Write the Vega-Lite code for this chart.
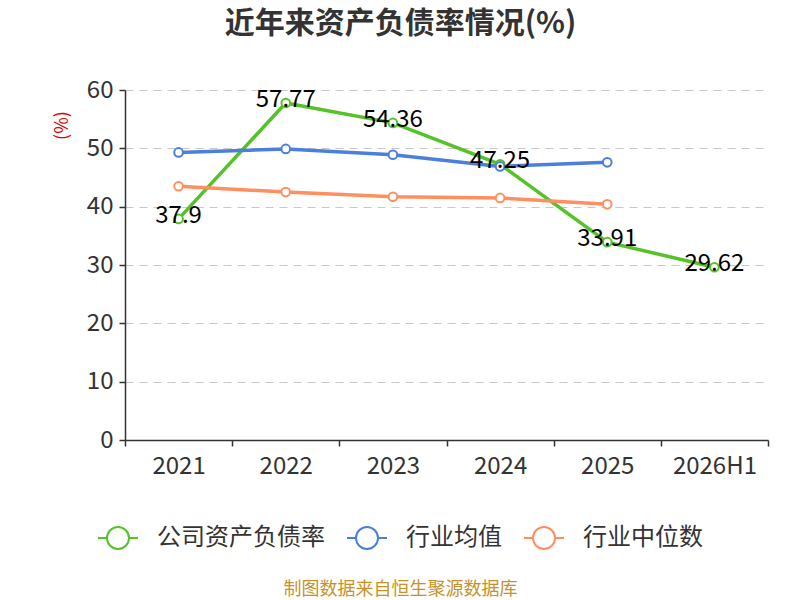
{
  "$schema": "https://vega.github.io/schema/vega-lite/v6.json",
  "width": 643,
  "height": 350,
  "autosize": {"type": "none"},
  "padding": {"left": 125, "top": 90, "right": 32, "bottom": 160},
  "background": "white",
  "title": {
    "text": "近年来资产负债率情况(%)",
    "anchor": "middle",
    "frame": "group",
    "dx": -46,
    "offset": 39,
    "fontSize": 30,
    "fontWeight": "bold",
    "color": "#333333",
    "font": "Noto Sans CJK SC"
  },
  "config": {
    "font": "Noto Sans CJK SC",
    "view": {"stroke": null}
  },
  "data": {
    "values": [
      {"year": "2021", "series": "公司资产负债率", "value": 37.9},
      {"year": "2022", "series": "公司资产负债率", "value": 57.77},
      {"year": "2023", "series": "公司资产负债率", "value": 54.36},
      {"year": "2024", "series": "公司资产负债率", "value": 47.25},
      {"year": "2025", "series": "公司资产负债率", "value": 33.91},
      {"year": "2026H1", "series": "公司资产负债率", "value": 29.62},
      {"year": "2021", "series": "行业均值", "value": 49.3},
      {"year": "2022", "series": "行业均值", "value": 49.9},
      {"year": "2023", "series": "行业均值", "value": 48.9},
      {"year": "2024", "series": "行业均值", "value": 46.9},
      {"year": "2025", "series": "行业均值", "value": 47.6},
      {"year": "2021", "series": "行业中位数", "value": 43.5},
      {"year": "2022", "series": "行业中位数", "value": 42.5},
      {"year": "2023", "series": "行业中位数", "value": 41.7},
      {"year": "2024", "series": "行业中位数", "value": 41.5},
      {"year": "2025", "series": "行业中位数", "value": 40.4}
    ]
  },
  "encoding": {
    "x": {
      "field": "year",
      "type": "ordinal",
      "bandPosition": 0.5,
      "scale": {"type": "band", "paddingInner": 0, "paddingOuter": 0,
        "domain": ["2021", "2022", "2023", "2024", "2025", "2026H1"]},
      "axis": {
        "title": "制图数据来自恒生聚源数据库",
        "titleColor": "#c8922a",
        "titleFontSize": 18,
        "titleFontWeight": "normal",
        "titleX": 275,
        "titleY": 149,
        "titleBaseline": "middle",
        "labelAngle": 0,
        "labelFontSize": 24,
        "labelColor": "#333333",
        "labelPadding": 8,
        "domainColor": "#333333",
        "domainWidth": 1.5,
        "tickColor": "#333333",
        "tickWidth": 1.5,
        "tickSize": 6,
        "tickBand": "extent",
        "grid": false
      }
    },
    "y": {
      "field": "value",
      "type": "quantitative",
      "scale": {"domain": [0, 60]},
      "axis": {
        "title": "(%)",
        "titleColor": "#e00000",
        "titleFontSize": 18,
        "titleFontWeight": "normal",
        "titleX": -63,
        "titleY": 35,
        "titleAngle": -90,
        "titleBaseline": "middle",
        "titleAlign": "center",
        "values": [0, 10, 20, 30, 40, 50, 60],
        "labelFontSize": 24,
        "labelColor": "#333333",
        "labelPadding": 6,
        "domain": true,
        "domainColor": "#333333",
        "domainWidth": 1.5,
        "ticks": true,
        "tickColor": "#333333",
        "tickWidth": 1.5,
        "tickSize": 6,
        "grid": true,
        "gridColor": "#c8c8c8",
        "gridWidth": 1.2,
        "gridDash": [8, 6]
      }
    },
    "color": {
      "field": "series",
      "type": "nominal",
      "scale": {
        "domain": ["公司资产负债率", "行业均值", "行业中位数"],
        "range": ["#56c22a", "#4a7fde", "#ff8f5e"]
      },
      "legend": {
        "orient": "none",
        "legendX": -28,
        "legendY": 427,
        "direction": "horizontal",
        "title": null,
        "labelFontSize": 24,
        "labelColor": "#333333",
        "labelFont": "Noto Sans CJK SC",
        "labelLimit": 400,
        "symbolType": "M-1,0L-0.55,0M0.55,0L1,0M0.55,0A0.55,0.55 0 1,1 -0.55,0A0.55,0.55 0 1,1 0.55,0",
        "symbolSize": 1600,
        "symbolStrokeWidth": 2,
        "symbolFillColor": "white",
        "labelOffset": 18,
        "columnPadding": 18,
        "encode": {"symbols": {"update": {"fill": {"value": "white"}, "fillOpacity": {"value": 1}}}}
      }
    }
  },
  "layer": [
    {
      "mark": {"type": "line", "strokeWidth": 3.5}
    },
    {
      "mark": {"type": "point", "filled": false, "fill": "white", "fillOpacity": 1, "size": 75, "strokeWidth": 2, "opacity": 1}
    },
    {
      "transform": [{"filter": "datum.series == '公司资产负债率'"}],
      "mark": {"type": "text", "fontSize": 24, "dy": -3, "baseline": "middle", "align": "center", "font": "Noto Sans CJK SC"},
      "encoding": {
        "text": {"field": "value", "type": "quantitative"},
        "color": {"value": "#000000"}
      }
    }
  ]
}
